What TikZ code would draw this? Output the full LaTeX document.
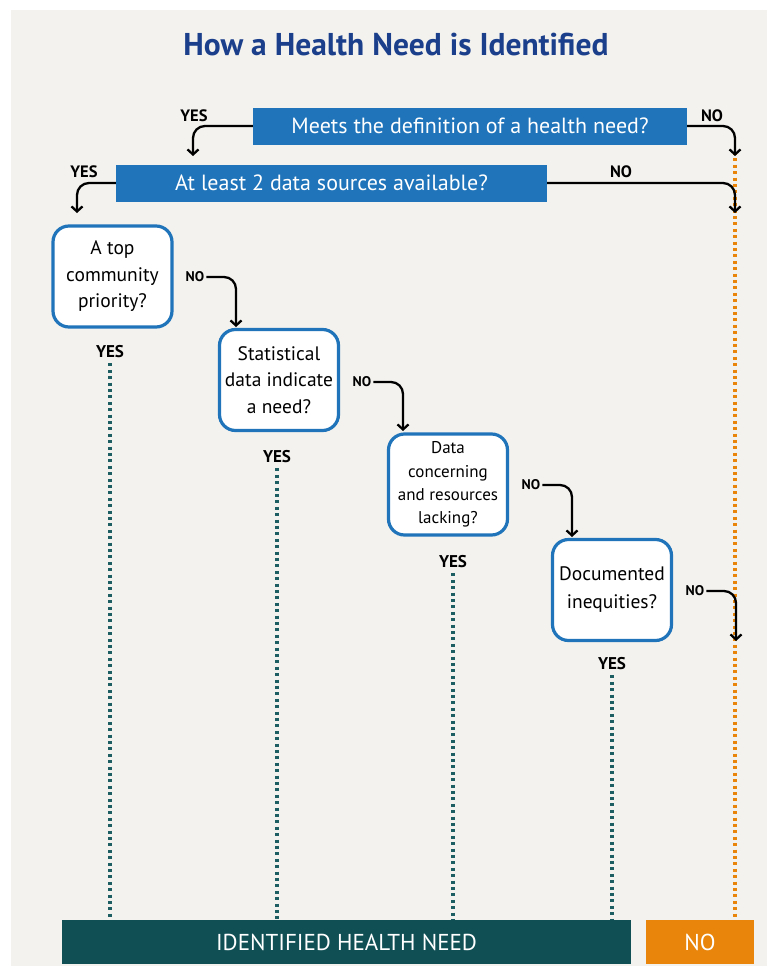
\documentclass[tikz,border=0pt]{standalone}
\usepackage{fontspec}
\setmainfont{PT Sans}
\usetikzlibrary{arrows.meta}
\definecolor{bgc}{HTML}{F3F2EE}
\definecolor{titleblue}{HTML}{1B3F8B}
\definecolor{boxblue}{HTML}{1F74BA}
\definecolor{idteal}{HTML}{105055}
\definecolor{dotteal}{HTML}{1D5E63}
\definecolor{orangec}{HTML}{E8850A}
\tikzset{
  bluebar/.style={fill=boxblue, text=white, inner sep=0pt, font=\fontsize{22}{24}\selectfont},
  qbox/.style={draw=boxblue, line width=3.2pt, fill=white, rounded corners=16pt,
    minimum width=119pt, minimum height=101pt, inner sep=0pt, align=center,
    font=\fontsize{19.5}{26.5}\selectfont},
  yeslab/.style={font=\bfseries\fontsize{17}{19}\selectfont, inner sep=2pt},
  toplab/.style={font=\bfseries\fontsize{16.5}{18}\selectfont, inner sep=2pt},
  nolab/.style={font=\bfseries\fontsize{14}{16}\selectfont, inner sep=2pt},
  arr/.style={draw=black, line width=2.3pt, rounded corners=12pt, -{Straight Barb[length=5pt,width=11pt,line width=2.3pt]}},
  tealdots/.style={draw=dotteal, line width=3.2pt, dash pattern=on 3pt off 3.4pt},
  orangedots/.style={draw=orangec, line width=3.2pt, dash pattern=on 3pt off 3.4pt},
  bottombox/.style={text=white, minimum height=44pt, inner sep=0pt, font=\fontsize{23}{25}\selectfont},
}
\begin{document}
\begin{tikzpicture}[x=1pt,y=-1pt]
\useasboundingbox (0,0) rectangle (767,966);
\fill[white] (0,0) rectangle (767,966);
\fill[bgc] (11,10) rectangle (767,966);
% title
\node[font=\bfseries\fontsize{31.5}{34}\selectfont, text=titleblue] (title) at (396,45) {How a Health Need is Identified};
% top bars
\node[bluebar, minimum width=434pt, minimum height=37pt] (q1) at (470,126) {Meets the definition of a health need?};
\node[bluebar, minimum width=431pt, minimum height=37pt] (q2) at (331.5,183) {At least 2 data sources available?};
% decision boxes
\node[qbox] (qa) at (112.5,276.5) {A top\\community\\priority?};
\node[qbox] (qb) at (279,380) {Statistical\\data indicate\\a need?};
\node[qbox, font=\fontsize{17}{23.3}\selectfont] (qc) at (448,484.5) {Data\\concerning\\and resources\\lacking?};
\node[qbox, font=\fontsize{19.5}{28}\selectfont] (qd) at (612,590) {Documented\\inequities?};
% bottom boxes
\node[bottombox, fill=idteal, minimum width=569pt] (idn) at (346.5,942) {IDENTIFIED HEALTH NEED};
\node[bottombox, fill=orangec, minimum width=108pt] (nob) at (700,942) {NO};
% labels
\node[toplab] (y1) at (194,116) {YES};
\node[toplab] (n1) at (712,116) {NO};
\node[toplab] (y2) at (84,172) {YES};
\node[toplab] (n2) at (621,172) {NO};
\node[nolab] (na) at (195,277) {NO};
\node[nolab] (nb) at (362,382) {NO};
\node[nolab] (nc) at (531,485) {NO};
\node[nolab] (nd) at (695,591) {NO};
\node[yeslab] (ya) at (110,352) {YES};
\node[yeslab] (yb) at (277,457) {YES};
\node[yeslab] (yc) at (453,562) {YES};
\node[yeslab] (yd) at (612,664) {YES};
% tips
\coordinate (t1) at (193,156);
\coordinate (t2) at (735,156);
\coordinate (t3) at (77,213);
\coordinate (t4) at (735,213);
\coordinate (tb) at (236,327);
\coordinate (tc) at (403,431);
\coordinate (td) at (572,537);
\coordinate (te) at (736,641);
\coordinate (ostart) at (735,152);
% dotted lines
\draw[orangedots] (ostart) -- (ostart |- nob.north);
\draw[tealdots] (ya.south) ++(0,3) -- (ya.south |- idn.north);
\draw[tealdots] (yb.south) ++(0,3) -- (yb.south |- idn.north);
\draw[tealdots] (yc.south) ++(0,3) -- (yc.south |- idn.north);
\draw[tealdots] (yd.south) ++(0,3) -- (yd.south |- idn.north);
% arrows
\draw[arr] (q1.west) -| (t1);
\draw[arr] (q1.east) -| (t2);
\draw[arr] (q2.west) -| (t3);
\draw[arr] (q2.east) -| (t4);
\draw[arr] (na.east) -| (tb);
\draw[arr] (nb.east) -| (tc);
\draw[arr] (nc.east) -| (td);
\draw[arr] (nd.east) -| (te);
\end{tikzpicture}
\end{document}
